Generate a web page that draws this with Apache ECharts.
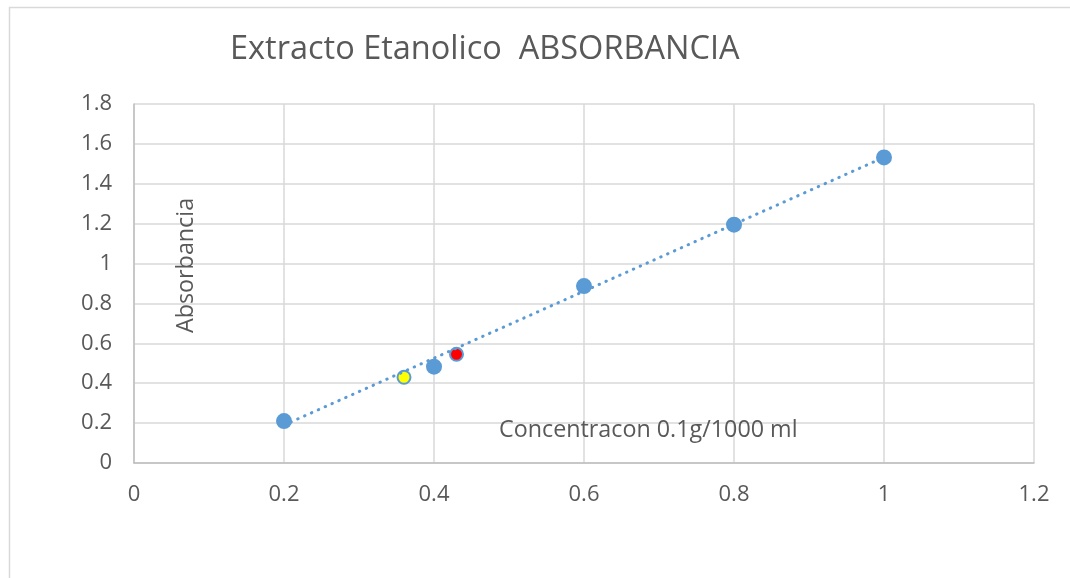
<!DOCTYPE html>
<html>
<head>
<meta charset="utf-8">
<title>Extracto Etanolico ABSORBANCIA</title>
<script src="https://cdn.jsdelivr.net/npm/echarts@6/dist/echarts.min.js"></script>
<style>
  html, body { margin: 0; padding: 0; background: #ffffff; }
  #chart { width: 1070px; height: 578px; }
</style>
</head>
<body>
<div id="chart"></div>
<script>
// Calibration standards: concentration vs. absorbance
const concentration = [0.2, 0.4, 0.6, 0.8, 1.0];
const absorbance = [0.21, 0.483, 0.887, 1.195, 1.532];

// Samples read against the curve
const sampleYellow = [0.36, 0.43];
const sampleRed = [0.43, 0.545];

const xTicks = [0, 0.2, 0.4, 0.6, 0.8, 1, 1.2];
const yTicks = [0, 0.2, 0.4, 0.6, 0.8, 1, 1.2, 1.4, 1.6, 1.8];

const titleText = 'Extracto Etanolico  ABSORBANCIA';
const xName = 'Concentracon 0.1g/1000 ml';
const yName = 'Absorbancia';

// Least-squares linear trendline through the standards
function linearFit(xs, ys) {
  const n = xs.length;
  const mx = xs.reduce((a, b) => a + b, 0) / n;
  const my = ys.reduce((a, b) => a + b, 0) / n;
  let sxy = 0, sxx = 0;
  for (let i = 0; i < n; i++) {
    sxy += (xs[i] - mx) * (ys[i] - my);
    sxx += (xs[i] - mx) * (xs[i] - mx);
  }
  const slope = sxy / sxx;
  return { slope, intercept: my - slope * mx };
}
const fit = linearFit(concentration, absorbance);
const xFirst = concentration[0];
const xLast = concentration[concentration.length - 1];
const trend = [
  [xFirst, fit.intercept + fit.slope * xFirst],
  [xLast, fit.intercept + fit.slope * xLast]
];

const FONT = '"Open Sans", "Liberation Sans", sans-serif';
const BLUE = '#5B9BD5';
const GRID = '#d9d9d9';
const TEXT = '#595959';

const chart = echarts.init(document.getElementById('chart'), null, { renderer: 'canvas' });

chart.setOption({
  animation: false,
  backgroundColor: '#ffffff',
  title: {
    text: titleText,
    left: 225,
    top: 28,
    textStyle: { fontFamily: FONT, fontSize: 32.5, fontWeight: 'normal', color: TEXT }
  },
  grid: { left: 134, right: 36, top: 104, bottom: 115, containLabel: false },
  xAxis: {
    type: 'value',
    min: xTicks[0],
    max: xTicks[xTicks.length - 1],
    interval: 0.2,
    axisLine: { show: true, lineStyle: { color: '#bfbfbf', width: 1.5 } },
    axisTick: { show: false },
    splitLine: { show: true, lineStyle: { color: GRID, width: 1.5 } },
    axisLabel: {
      margin: 21,
      fontFamily: FONT, fontSize: 22, color: TEXT,
      formatter: v => String(+v.toFixed(1))
    }
  },
  yAxis: {
    type: 'value',
    min: yTicks[0],
    max: yTicks[yTicks.length - 1],
    interval: 0.2,
    axisLine: { show: true, lineStyle: { color: '#bfbfbf', width: 1.5 } },
    axisTick: { show: false },
    splitLine: { show: true, lineStyle: { color: GRID, width: 1.5 } },
    axisLabel: {
      margin: 22,
      fontFamily: FONT, fontSize: 22, color: TEXT,
      formatter: v => String(+v.toFixed(1))
    }
  },
  graphic: [
    {
      type: 'rect',
      left: 7, top: 5,
      shape: { width: 1100, height: 620 },
      style: { fill: 'none', stroke: GRID, lineWidth: 1.5 },
      silent: true, z: -10
    },
    {
      type: 'text',
      left: 499, top: 419,
      style: { text: xName, fontFamily: FONT, fontSize: 23.3, fill: TEXT },
      z: 10
    },
    {
      type: 'text',
      x: 175, y: 333,
      rotation: Math.PI / 2,
      style: { text: yName, fontFamily: FONT, fontSize: 23.3, fill: TEXT },
      z: 10
    }
  ],
  series: [
    {
      name: 'Estandares',
      type: 'scatter',
      data: concentration.map((x, i) => [x, absorbance[i]]),
      symbol: 'circle',
      symbolSize: 16,
      itemStyle: { color: BLUE, opacity: 1 },
      z: 2
    },
    {
      name: 'Muestra 1',
      type: 'scatter',
      data: [sampleYellow],
      symbol: 'circle',
      symbolSize: 13,
      itemStyle: { color: '#ffff00', borderColor: BLUE, borderWidth: 2, opacity: 1 },
      z: 3
    },
    {
      name: 'Muestra 2',
      type: 'scatter',
      data: [sampleRed],
      symbol: 'circle',
      symbolSize: 13,
      itemStyle: { color: '#ff0000', borderColor: BLUE, borderWidth: 2, opacity: 1 },
      z: 3
    },
    {
      name: 'Lineal',
      type: 'line',
      data: trend,
      symbol: 'none',
      lineStyle: { color: BLUE, width: 3, type: [0.5, 7], cap: 'round' },
      z: 4
    }
  ]
});
</script>
</body>
</html>
